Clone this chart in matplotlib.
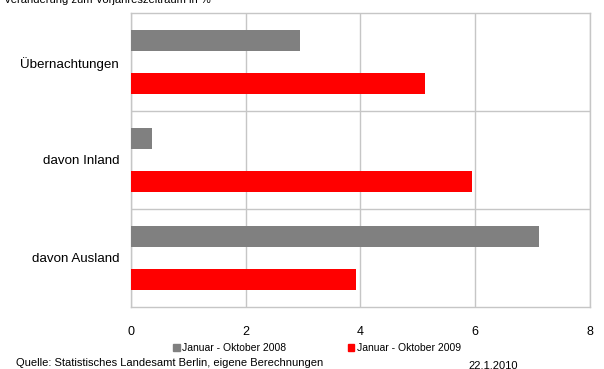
import matplotlib
matplotlib.use("Agg")
import matplotlib.pyplot as plt
from matplotlib.patches import Patch
import numpy as np

categories = ["Übernachtungen", "davon Inland", "davon Ausland"]
series_2008 = [2.95, 0.37, 7.12]
series_2009 = [5.13, 5.95, 3.93]
series_names = ["Januar - Oktober 2008", "Januar - Oktober 2009"]
xticks = [0, 2, 4, 6, 8]

plt.rcParams['font.family'] = ['Liberation Sans', 'DejaVu Sans']

fig = plt.figure(figsize=(6.04, 3.69), dpi=100)
ax = fig.add_axes([131/604, 1-306.7/369, (589.5-131)/604, (306.7-13.3)/369])

y = np.arange(len(categories))
h = 0.215
off = 0.22
ax.barh(y - off, series_2008, height=h, color='#808080', zorder=3)
ax.barh(y + off, series_2009, height=h, color='#ff0000', zorder=3)

ax.set_xlim(0, 8)
ax.set_ylim(2.5, -0.5)
ax.set_xticks(xticks)
ax.set_xticklabels([str(t) for t in xticks], fontsize=9)
ax.set_yticks(y)
ax.set_yticklabels(categories, fontsize=9.6)
ax.set_yticks([0.5, 1.5], minor=True)
ax.tick_params(axis='both', which='both', length=0)
ax.tick_params(axis='x', pad=14)
ax.tick_params(axis='y', pad=8.5)
ax.grid(axis='x', color='#c6c6c6', linewidth=1, zorder=0)
ax.grid(axis='y', which='minor', color='#c6c6c6', linewidth=1, zorder=0)
ax.grid(axis='y', which='major', visible=False)
for s in ax.spines.values():
    s.set_color('#c6c6c6')
    s.set_linewidth(1)

handles = [Patch(color='#808080'), Patch(color='#ff0000')]
fig.legend(handles, series_names, loc='center', bbox_to_anchor=(317/604, 1-348/369),
           ncol=2, frameon=False, fontsize=7.5, handlelength=0.65, handleheight=0.65,
           handletextpad=0.25, columnspacing=5.9, borderpad=0)

fig.text(4/604, 1-3/369, "Veränderung zum Vorjahreszeitraum in %", fontsize=8, va='baseline', ha='left')
fig.text(16/604, 1-363/369, "Quelle: Statistisches Landesamt Berlin, eigene Berechnungen", fontsize=8, va='center', ha='left')
fig.text(468/604, 1-366/369, "22.1.2010", fontsize=8, va='center', ha='left')

fig.savefig("out.png", dpi=100)
